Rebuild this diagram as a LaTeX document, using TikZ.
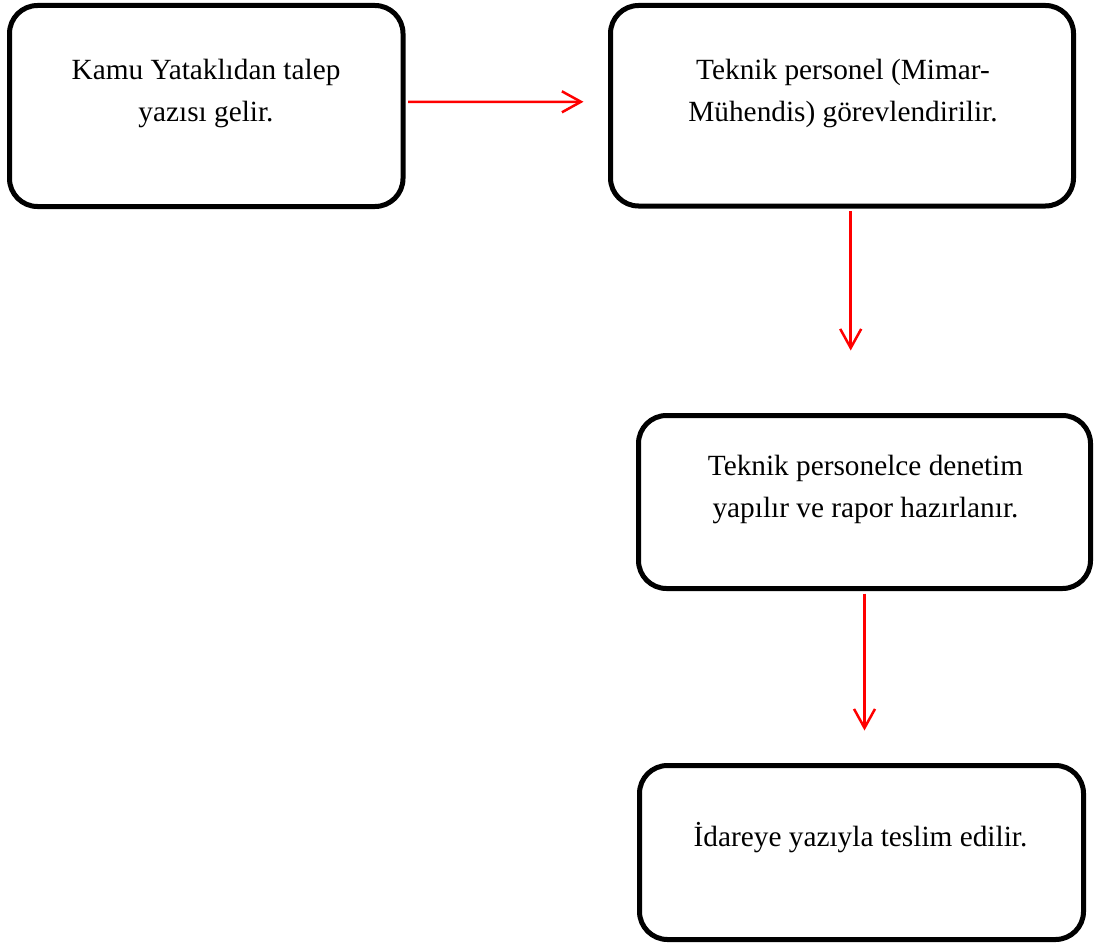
\documentclass[tikz,border=0pt]{standalone}
\usepackage{fontspec}
\setmainfont{Liberation Serif}
\usetikzlibrary{arrows.meta}
\begin{document}
\begin{tikzpicture}[x=1pt,y=-1pt,
  stepbox/.style={draw=black, line width=5pt, rounded corners=28pt,
    rectangle, inner sep=0pt},
  boxtext/.style={font=\fontsize{29.3}{42}\selectfont, align=center,
    inner sep=0pt, anchor=base},
  flow/.style={draw=red, line width=2.5pt,
    -{Straight Barb[length=19pt,width=21pt,line width=2.5pt]}}]
  \useasboundingbox (0,0) rectangle (1094,942);

  % process boxes
  \node[stepbox, minimum width=393.5pt, minimum height=201pt] (b1) at (206.25,106) {};
  \node[stepbox, minimum width=463pt, minimum height=200.5pt] (b2) at (842,105.75) {};
  \node[stepbox, minimum width=452pt, minimum height=173pt] (b3) at (864.5,502) {};
  \node[stepbox, minimum width=444pt, minimum height=174pt] (b4) at (861.5,852.5) {};

  % box labels (base anchor sits on the last line)
  \node[boxtext] (t1) at (206,121.5) {Kamu Yataklıdan talep\\yazısı gelir.};
  \node[boxtext] (t2) at (843,121.5) {Teknik personel (Mimar-\\Mühendis) görevlendirilir.};
  \node[boxtext] (t3) at (865.5,517) {Teknik personelce denetim\\yapılır ve rapor hazırlanır.};
  \node[boxtext] (t4) at (860.5,846) {İdareye yazıyla teslim edilir.};

  % connectors
  \draw[flow, shorten <=2.5pt, shorten >=24.5pt]
    ([yshift=4pt]b1.east) -- ([yshift=4pt]b2.west);
  \draw[flow, shorten <=2.5pt, shorten >=62.5pt]
    ([xshift=8.7pt]b2.south) -- ([xshift=8.7pt]b2.south |- b3.north);
  \draw[flow, shorten <=2.5pt, shorten >=32.5pt]
    (b3.south) -- (b3.south |- b4.north);
\end{tikzpicture}
\end{document}
